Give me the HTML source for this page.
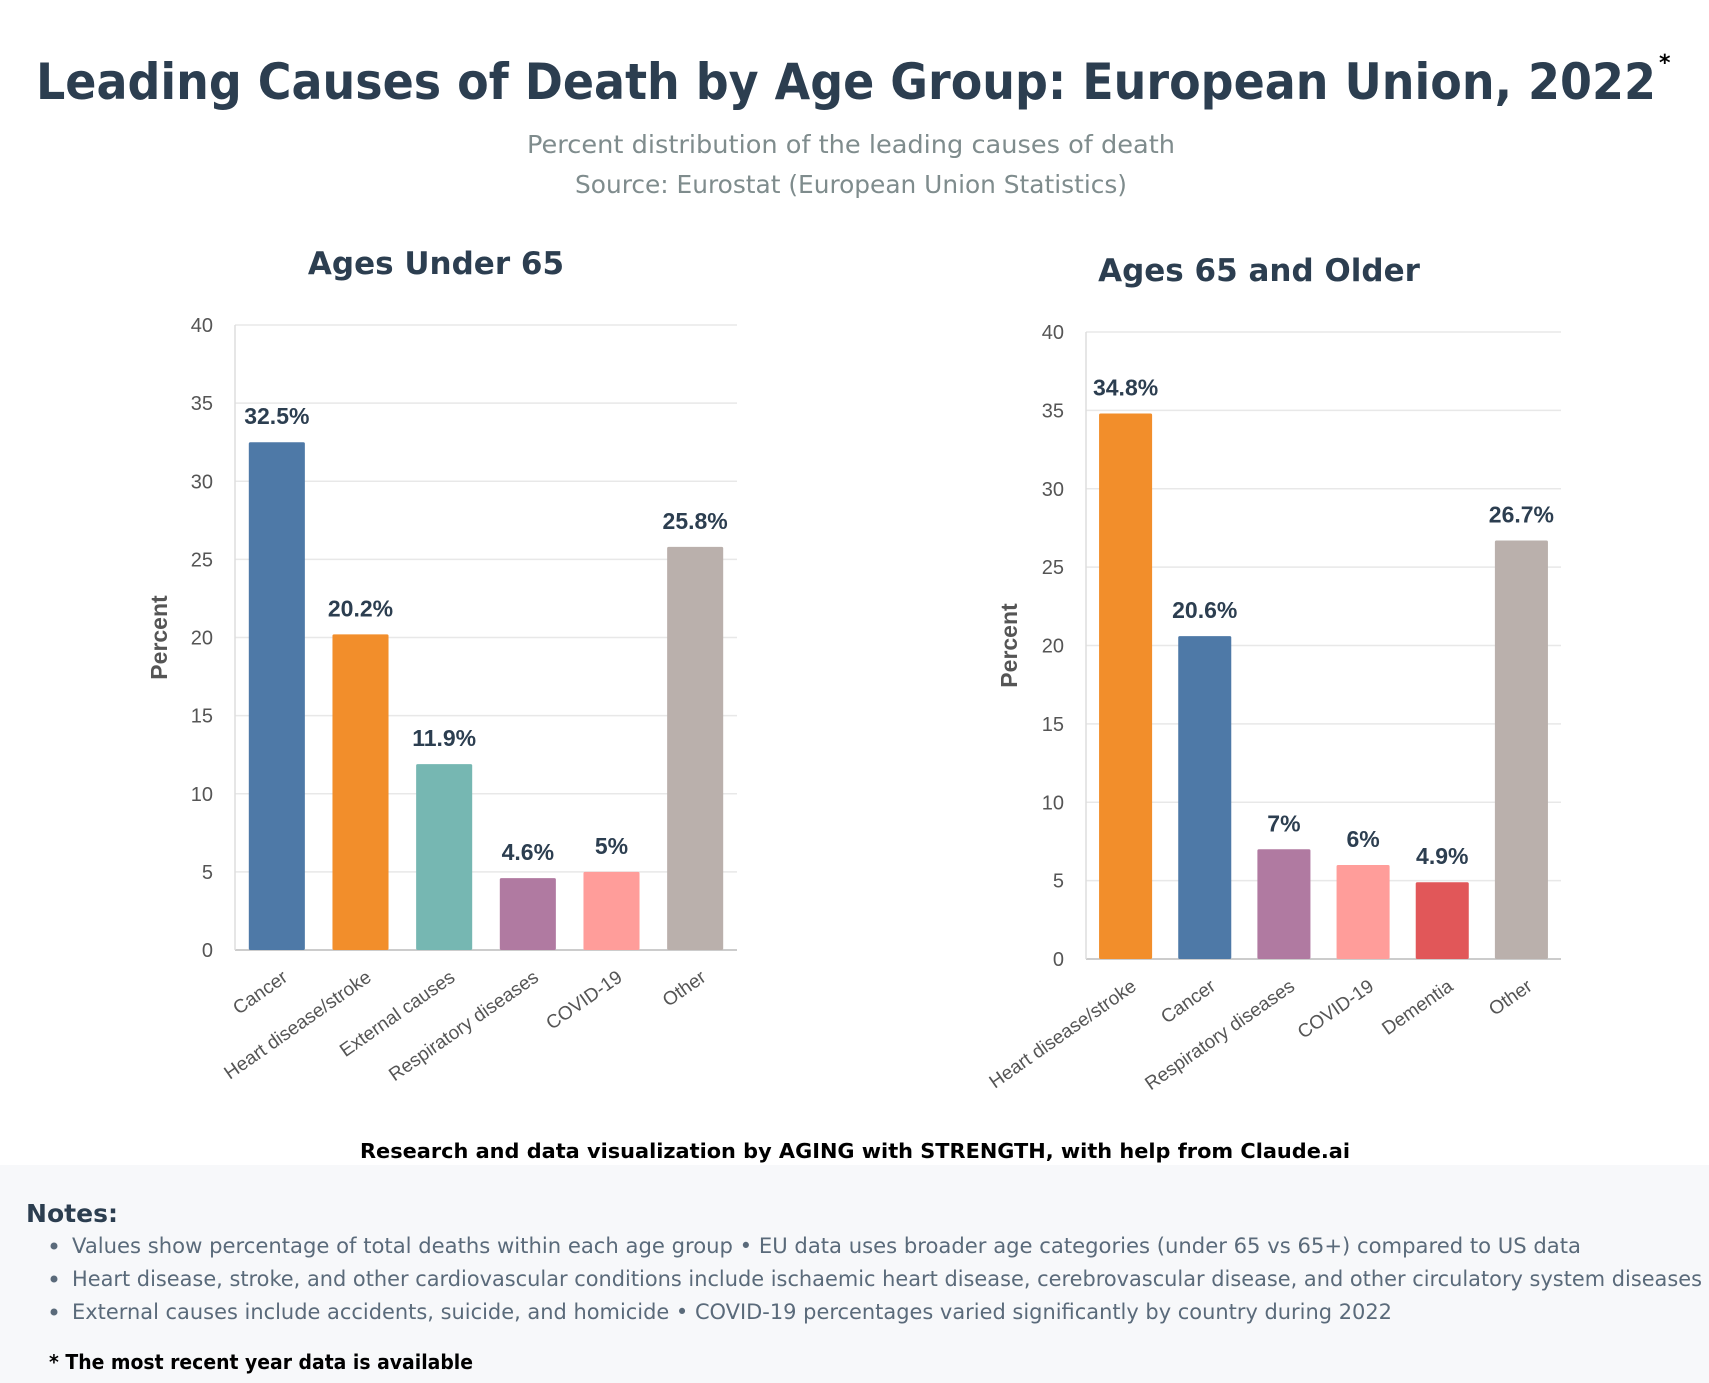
<!DOCTYPE html>
<html><head><meta charset="utf-8"><style>
html,body{margin:0;padding:0;background:#fff;}
svg{display:block;}
</style></head><body>
<svg id="page" width="1709" height="1383" viewBox="0 0 1709 1383" xmlns="http://www.w3.org/2000/svg">
<rect x="0" y="1165" width="1709" height="218" fill="#f7f8fa"/>
<text x="36" y="99" font-family="DejaVu Sans, Liberation Sans, sans-serif" font-weight="bold" font-size="50" fill="#2c3e50" textLength="1620" lengthAdjust="spacingAndGlyphs">Leading Causes of Death by Age Group: European Union, 2022</text>
<text x="1659" y="70" font-family="DejaVu Sans, sans-serif" font-weight="bold" font-size="22" fill="#000">*</text>
<text x="851" y="153" text-anchor="middle" font-family="DejaVu Sans, sans-serif" font-size="25" fill="#7f8c8d" textLength="648" lengthAdjust="spacingAndGlyphs">Percent distribution of the leading causes of death</text>
<text x="851" y="193" text-anchor="middle" font-family="DejaVu Sans, sans-serif" font-size="25" fill="#7f8c8d" textLength="552" lengthAdjust="spacingAndGlyphs">Source: Eurostat (European Union Statistics)</text>
<g id="left"></g>
<g id="right"></g>
<text x="855" y="1158" text-anchor="middle" font-family="DejaVu Sans, sans-serif" font-weight="600" font-size="20" fill="#000" textLength="990" lengthAdjust="spacingAndGlyphs">Research and data visualization by AGING with STRENGTH, with help from Claude.ai</text>
<text x="26" y="1222" font-family="DejaVu Sans, sans-serif" font-weight="bold" font-size="25" fill="#2c3e50" textLength="92" lengthAdjust="spacingAndGlyphs">Notes:</text>
<g font-family="DejaVu Sans, sans-serif" font-size="21" fill="#5a6a7a">
<circle cx="54" cy="1246" r="3.5" fill="#5a6a7a"/>
<text x="72" y="1253" textLength="1509" lengthAdjust="spacingAndGlyphs">Values show percentage of total deaths within each age group • EU data uses broader age categories (under 65 vs 65+) compared to US data</text>
<circle cx="54" cy="1279" r="3.5" fill="#5a6a7a"/>
<text x="72" y="1286" textLength="1630" lengthAdjust="spacingAndGlyphs">Heart disease, stroke, and other cardiovascular conditions include ischaemic heart disease, cerebrovascular disease, and other circulatory system diseases</text>
<circle cx="54" cy="1312" r="3.5" fill="#5a6a7a"/>
<text x="72" y="1319" textLength="1320" lengthAdjust="spacingAndGlyphs">External causes include accidents, suicide, and homicide • COVID-19 percentages varied significantly by country during 2022</text>
</g>
<text x="49" y="1369" font-family="DejaVu Sans, sans-serif" font-weight="600" font-size="20" fill="#000" textLength="424" lengthAdjust="spacingAndGlyphs">* The most recent year data is available</text>
</svg>
<script>
const leftCategories = ["Cancer","Heart disease/stroke","External causes","Respiratory diseases","COVID-19","Other"];
const leftValues = [32.5, 20.2, 11.9, 4.6, 5, 25.8];
const leftColors = ["#4e79a7","#f28e2b","#76b7b2","#b07aa1","#ff9d9a","#bab0ac"];
const rightCategories = ["Heart disease/stroke","Cancer","Respiratory diseases","COVID-19","Dementia","Other"];
const rightValues = [34.8, 20.6, 7, 6, 4.9, 26.7];
const rightColors = ["#f28e2b","#4e79a7","#b07aa1","#ff9d9a","#e15759","#bab0ac"];
const yTicks = [0,5,10,15,20,25,30,35,40];
const yMax = 40;
const NS = "http://www.w3.org/2000/svg";
function mk(tag, attrs, parent){const e=document.createElementNS(NS,tag);for(const k in attrs)e.setAttribute(k,attrs[k]);parent.appendChild(e);return e;}
function drawChart(g, title, cats, vals, colors, L){
  const y = v => L.y0 + (L.yTop - L.y0) * v / yMax;
  const band = (L.x1 - L.x0) / cats.length;
  const xc = i => L.x0 + band * (i + 0.5);
  const t = mk('text',{x:L.tx,y:L.ty,'text-anchor':'middle','font-family':'DejaVu Sans, sans-serif','font-weight':'bold','font-size':'31',fill:'#2c3e50'},g);
  
  
  t.textContent = title;
  yTicks.forEach(v=>{
    const ln = mk('line',{x1:L.x0,x2:L.x1,y1:y(v),y2:y(v),stroke:v===0?'#cccccc':'#e8e8e8','stroke-width':v===0?2:1.5},g);
    
    
    const tl = mk('text',{x:L.x0-22,y:y(v)+7,'text-anchor':'end','font-family':'Liberation Sans, sans-serif','font-size':'20',fill:'#555'},g);
    
    
    tl.textContent = v;
  });
  const ax = mk('line',{x1:L.x0,x2:L.x0,y1:L.yTop,y2:L.y0,stroke:'#dddddd','stroke-width':1.5},g);
  
  
  const at = mk('text',{x:0,y:0,'text-anchor':'middle','font-family':'Liberation Sans, sans-serif','font-weight':'bold','font-size':'23',fill:'#555',transform:`translate(${L.ax},${(L.yTop+L.y0)/2}) rotate(-90)`},g);
  
  
  at.textContent = 'Percent';
  const bw = band*0.67;
  vals.forEach((v,i)=>{
    const r = mk('rect',{x:xc(i)-bw/2,y:y(v),width:bw,height:L.y0-y(v),fill:colors[i],rx:1.5},g);
    
    
    const vl = mk('text',{x:xc(i),y:y(v)-18,'text-anchor':'middle','font-family':'Liberation Sans, sans-serif','font-weight':'bold','font-size':'23',fill:'#2c3e50'},g);
    
    
    vl.textContent = v + '%';
    const xl = mk('text',{x:0,y:0,'text-anchor':'end','font-family':'Liberation Sans, sans-serif','font-size':'19',fill:'#555',transform:`translate(${xc(i)+12},${L.y0+30}) rotate(-35)`},g);
    
    
    xl.textContent = cats[i];
  });
}
drawChart(document.getElementById('left'),'Ages Under 65',leftCategories,leftValues,leftColors,{x0:235,x1:737,yTop:325,y0:950,tx:436,ty:274,ax:167});
drawChart(document.getElementById('right'),'Ages 65 and Older',rightCategories,rightValues,rightColors,{x0:1086,x1:1561,yTop:332,y0:959,tx:1259,ty:281,ax:1017});
</script>
</body></html>
